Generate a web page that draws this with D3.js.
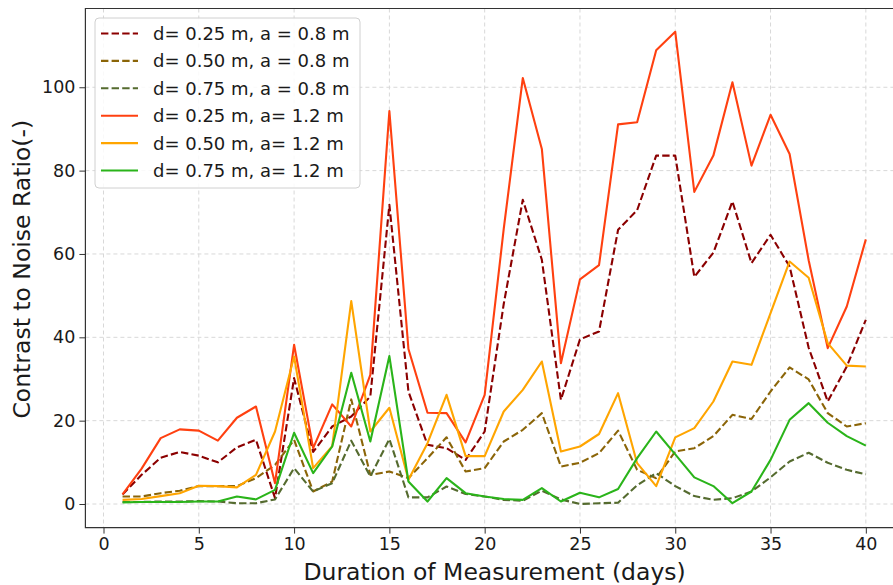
<!DOCTYPE html>
<html>
<head>
<meta charset="utf-8">
<script src="https://cdn.jsdelivr.net/npm/d3@7"></script>
<style>
  html, body { margin: 0; padding: 0; background: #fff; }
  svg { display: block; font-family: "DejaVu Sans", sans-serif; }
</style>
</head>
<body>
<svg id="chart" width="893" height="585"></svg>
<script>
// Measurement days
const days = d3.range(1, 41);

// Contrast-to-noise ratio per day, one array per configuration
const cnr_d025_a08 = [2.3, 7.0, 11.1, 12.5, 11.6, 10.0, 13.6, 15.4, 1.4, 30.2,
  12.5, 18.6, 21.0, 25.8, 71.8, 27.0, 14.2, 13.4, 10.6, 17.4,
  48.0, 73.0, 58.6, 25.0, 39.5, 41.4, 65.8, 70.5, 83.6, 83.6,
  54.5, 60.3, 72.6, 57.8, 64.6, 57.0, 37.5, 24.6, 33.0, 44.2];
const cnr_d050_a08 = [1.8, 1.8, 2.6, 3.2, 4.3, 4.3, 4.3, 6.2, 9.4, 15.4,
  3.0, 5.4, 25.1, 7.0, 7.8, 6.2, 11.0, 16.0, 7.8, 8.6,
  15.0, 17.8, 21.8, 9.0, 9.9, 12.2, 17.6, 8.2, 6.2, 12.6,
  13.4, 16.3, 21.4, 20.4, 27.0, 32.8, 29.9, 21.8, 18.6, 19.4];
const cnr_d075_a08 = [0.5, 0.5, 0.6, 0.6, 0.7, 0.6, 0.2, 0.2, 1.1, 8.6,
  3.0, 5.0, 15.2, 6.6, 15.6, 1.6, 1.6, 4.2, 2.4, 1.8,
  1.0, 0.8, 3.2, 1.1, 0.0, 0.2, 0.3, 4.5, 7.4, 4.3,
  1.9, 1.0, 1.4, 3.0, 6.4, 10.2, 12.3, 9.9, 8.2, 7.1];
const cnr_d025_a12 = [2.3, 8.5, 15.8, 17.9, 17.6, 15.2, 20.7, 23.4, 5.0, 38.2,
  13.4, 23.9, 18.6, 31.0, 94.3, 37.2, 21.9, 21.8, 14.8, 26.2,
  66.0, 102.2, 85.2, 33.8, 53.9, 57.3, 91.1, 91.6, 108.9, 113.3,
  74.9, 83.6, 101.2, 81.2, 93.4, 84.0, 58.5, 37.4, 47.4, 63.5];
const cnr_d050_a12 = [1.0, 1.2, 1.9, 2.6, 4.4, 4.3, 4.0, 7.0, 17.4, 35.4,
  8.6, 13.9, 48.7, 17.4, 23.1, 5.8, 14.6, 26.2, 11.5, 11.5,
  22.2, 27.4, 34.2, 12.6, 13.8, 16.8, 26.6, 9.8, 4.3, 16.0,
  18.2, 24.6, 34.2, 33.4, 45.8, 58.2, 54.3, 38.6, 33.2, 33.0];
const cnr_d075_a12 = [0.4, 0.5, 0.5, 0.5, 0.6, 0.6, 1.8, 1.1, 3.4, 17.1,
  7.4, 13.8, 31.5, 15.0, 35.5, 5.4, 0.6, 6.2, 2.6, 1.8,
  1.2, 1.0, 3.8, 0.6, 2.7, 1.6, 3.6, 11.0, 17.4, 11.9,
  6.4, 4.3, 0.2, 3.0, 10.6, 20.2, 24.2, 19.5, 16.3, 14.0];

const seriesNames = [
  "d= 0.25 m, a = 0.8 m",
  "d= 0.50 m, a = 0.8 m",
  "d= 0.75 m, a = 0.8 m",
  "d= 0.25 m, a= 1.2 m",
  "d= 0.50 m, a= 1.2 m",
  "d= 0.75 m, a= 1.2 m"
];
const seriesValues = [cnr_d025_a08, cnr_d050_a08, cnr_d075_a08,
                      cnr_d025_a12, cnr_d050_a12, cnr_d075_a12];
const seriesColors = ["#8b0000", "#8b6508", "#556b2f", "#ff4010", "#ffa500", "#2ab41a"];
const seriesDashed = [true, true, true, false, false, false];

const xTicks = [0, 5, 10, 15, 20, 25, 30, 35, 40];
const yTicks = [0, 20, 40, 60, 80, 100];

const xLabel = "Duration of Measurement (days)";
const yLabel = "Contrast to Noise Ratio(-)";

// ---- layout ----
const svg = d3.select("#chart");
const plot = { left: 85.4, right: 903, top: 8.5, bottom: 527.6 };

const x = d3.scaleLinear().domain([-0.95, 41.95]).range([plot.left, plot.right]);
const y = d3.scaleLinear().domain([-5.66, 118.9]).range([plot.bottom, plot.top]);

// grid
const grid = svg.append("g");
grid.selectAll("line.gx").data(xTicks).join("line")
  .attr("x1", d => x(d)).attr("x2", d => x(d))
  .attr("y1", plot.top).attr("y2", plot.bottom)
  .attr("stroke", "#d8d8d8").attr("stroke-width", 1).attr("stroke-dasharray", "4,3");
grid.selectAll("line.gy").data(yTicks).join("line")
  .attr("x1", plot.left).attr("x2", plot.right)
  .attr("y1", d => y(d)).attr("y2", d => y(d))
  .attr("stroke", "#d8d8d8").attr("stroke-width", 1).attr("stroke-dasharray", "4,3");

// series lines
const line = d3.line().x((d, i) => x(days[i])).y(d => y(d));
const lines = svg.append("g");
seriesValues.forEach((vals, k) => {
  lines.append("path")
    .attr("d", line(vals))
    .attr("fill", "none")
    .attr("stroke", seriesColors[k])
    .attr("stroke-width", 2.1)
    .attr("stroke-linejoin", "round")
    .attr("stroke-dasharray", seriesDashed[k] ? "7.4,3.2" : null);
});

// axes
const xAxis = d3.axisBottom(x).tickValues(xTicks).tickSize(6).tickPadding(4).tickFormat(d3.format("d"));
const yAxis = d3.axisLeft(y).tickValues(yTicks).tickSize(6).tickPadding(4).tickFormat(d3.format("d"));

const gx = svg.append("g").attr("transform", `translate(0,${plot.bottom})`).call(xAxis);
const gy = svg.append("g").attr("transform", `translate(${plot.left},0)`).call(yAxis);
[gx, gy].forEach(g => {
  g.select(".domain").remove();
  g.selectAll(".tick line").attr("stroke", "#333").attr("stroke-width", 1);
  g.selectAll(".tick text").attr("fill", "#1a1a1a")
    .style("font-family", "DejaVu Sans").style("font-size", "17.5px");
});

// frame (left, top, bottom spines)
svg.append("path")
  .attr("d", `M${plot.right},${plot.top}H${plot.left}V${plot.bottom}H${plot.right}`)
  .attr("fill", "none").attr("stroke", "#333").attr("stroke-width", 1.2);

// axis titles
svg.append("text")
  .attr("x", (103.5 + 865.7) / 2 + 10).attr("y", 580)
  .attr("text-anchor", "middle").attr("fill", "#1a1a1a")
  .style("font-size", "23.5px").text(xLabel);
svg.append("text")
  .attr("transform", `translate(30,${(116.7 + 421.7) / 2}) rotate(-90)`)
  .attr("text-anchor", "middle").attr("fill", "#1a1a1a")
  .style("font-size", "23.5px").text(yLabel);

// legend
const lg = svg.append("g").attr("transform", "translate(95,18)");
lg.append("rect").attr("width", 265).attr("height", 170).attr("rx", 4)
  .attr("fill", "#fff").attr("fill-opacity", 0.85)
  .attr("stroke", "#d0d0d0").attr("stroke-width", 1);
seriesNames.forEach((name, k) => {
  const cy = 15.5 + k * 27.4;
  lg.append("line").attr("x1", 6).attr("x2", 43).attr("y1", cy).attr("y2", cy)
    .attr("stroke", seriesColors[k]).attr("stroke-width", 2.1)
    .attr("stroke-dasharray", seriesDashed[k] ? "7.4,3.2" : null);
  lg.append("text").attr("x", 58).attr("y", cy).attr("dy", "0.36em")
    .attr("fill", "#1a1a1a").style("font-size", "18px").text(name);
});
</script>
</body>
</html>
